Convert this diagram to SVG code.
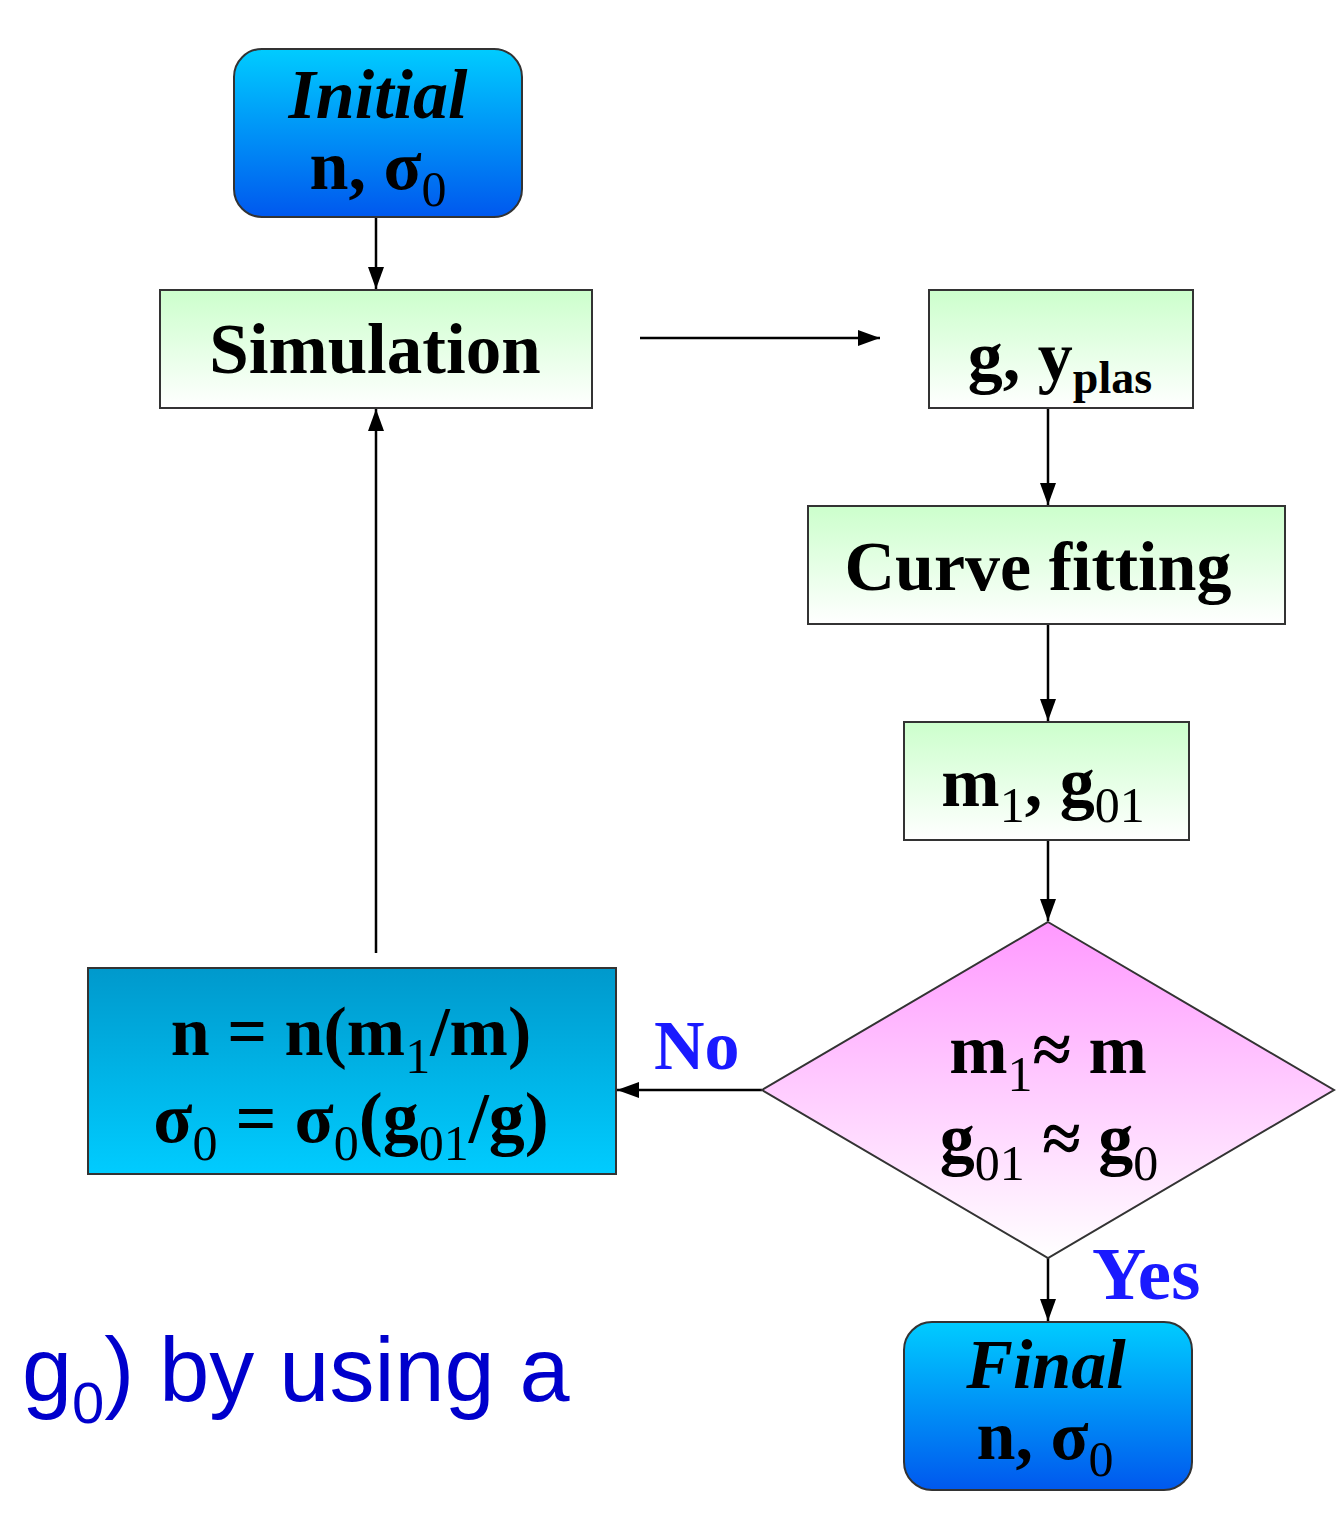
<svg xmlns="http://www.w3.org/2000/svg" width="1336" height="1521" viewBox="0 0 1336 1521">
<style>
.t{font-family:"Liberation Serif","Times New Roman",serif;font-weight:bold;font-size:70px;fill:#000;text-anchor:middle}
.it{font-style:italic}
.sub{font-weight:normal;font-size:50px}
.box{stroke:#333;stroke-width:2}
.con{stroke:#000;stroke-width:2.5;fill:none}
.lab{font-family:"Liberation Serif","Times New Roman",serif;font-weight:bold;fill:#1a1aff}
</style>
<defs>
<linearGradient id="gBlue" x1="0" y1="0" x2="0" y2="1"><stop offset="0" stop-color="#00ccff"/><stop offset="1" stop-color="#0058ee"/></linearGradient>
<linearGradient id="gCyan" x1="0" y1="0" x2="0" y2="1"><stop offset="0" stop-color="#0099cc"/><stop offset="1" stop-color="#00ccff"/></linearGradient>
<linearGradient id="gGreen" x1="0" y1="0" x2="0" y2="1"><stop offset="0" stop-color="#ccffcc"/><stop offset="1" stop-color="#ffffff"/></linearGradient>
<linearGradient id="gPink" x1="0" y1="0" x2="0" y2="1"><stop offset="0" stop-color="#ff99ff"/><stop offset="1" stop-color="#ffffff"/></linearGradient>
<marker id="arr" viewBox="0 0 22 16" refX="22" refY="8" markerWidth="22" markerHeight="16" markerUnits="userSpaceOnUse" orient="auto"><path d="M0,0 L22,8 L0,16 Z" fill="#000"/></marker>
</defs>

<g id="connectors">
<line class="con" x1="376" y1="217" x2="376" y2="289" marker-end="url(#arr)"/>
<line class="con" x1="640" y1="338" x2="880" y2="338" marker-end="url(#arr)"/>
<line class="con" x1="1048" y1="408" x2="1048" y2="505" marker-end="url(#arr)"/>
<line class="con" x1="1048" y1="624" x2="1048" y2="721" marker-end="url(#arr)"/>
<line class="con" x1="1048" y1="840" x2="1048" y2="921" marker-end="url(#arr)"/>
<line class="con" x1="1048" y1="1258" x2="1048" y2="1321" marker-end="url(#arr)"/>
<line class="con" x1="762" y1="1090" x2="617" y2="1090" marker-end="url(#arr)"/>
<line class="con" x1="376" y1="953" x2="376" y2="409" marker-end="url(#arr)"/>
</g>

<g id="initial">
<rect class="box" x="234" y="49" width="288" height="168" rx="28" fill="url(#gBlue)"/>
<text class="t it" x="378" y="118">Initial</text>
<text class="t" x="378" y="189">n, σ<tspan class="sub" dy="17">0</tspan></text>
</g>

<g id="simulation">
<rect class="box" x="160" y="290" width="432" height="118" fill="url(#gGreen)"/>
<text class="t" x="375" y="373" style="font-size:71px">Simulation</text>
</g>

<g id="gyplas">
<rect class="box" x="929" y="290" width="264" height="118" fill="url(#gGreen)"/>
<text class="t" x="1060" y="380">g, y<tspan class="sub" dy="13" style="font-weight:bold;font-size:46px">plas</tspan></text>
</g>

<g id="curvefitting">
<rect class="box" x="808" y="506" width="477" height="118" fill="url(#gGreen)"/>
<text class="t" x="1038" y="590">Curve fitting</text>
</g>

<g id="m1g01">
<rect class="box" x="904" y="722" width="285" height="118" fill="url(#gGreen)"/>
<text class="t" x="1043" y="806">m<tspan class="sub" dy="16">1</tspan><tspan dy="-16">, g</tspan><tspan class="sub" dy="16">01</tspan></text>
</g>

<g id="decision">
<polygon class="box" points="1048,922 1334,1090 1048,1258 762,1090" fill="url(#gPink)"/>
<text class="t" x="1048" y="1073">m<tspan class="sub" dy="18">1</tspan><tspan dy="-18">≈ m</tspan></text>
<text class="t" x="1049" y="1162">g<tspan class="sub" dy="18">01</tspan><tspan dy="-18"> ≈ g</tspan><tspan class="sub" dy="18">0</tspan></text>
</g>

<g id="update">
<rect class="box" x="88" y="968" width="528" height="206" fill="url(#gCyan)"/>
<text class="t" x="351" y="1055">n = n(m<tspan class="sub" dy="18">1</tspan><tspan dy="-18">/m)</tspan></text>
<text class="t" x="351" y="1142" style="font-size:72px">σ<tspan class="sub" dy="18">0</tspan><tspan dy="-18"> = σ</tspan><tspan class="sub" dy="18">0</tspan><tspan dy="-18">(g</tspan><tspan class="sub" dy="18">01</tspan><tspan dy="-18">/g)</tspan></text>
</g>

<g id="final">
<rect class="box" x="904" y="1322" width="288" height="168" rx="28" fill="url(#gBlue)"/>
<text class="t it" x="1046" y="1388">Final</text>
<text class="t" x="1045" y="1459">n, σ<tspan class="sub" dy="17">0</tspan></text>
</g>

<g id="labels">
<text class="lab" x="654" y="1069" font-size="70">No</text>
<text class="lab" x="1092" y="1299" font-size="75">Yes</text>
</g>

<text x="22" y="1401" font-family="'Liberation Sans',Arial,sans-serif" font-size="90" fill="#0000cc">g<tspan font-size="58" dy="22">0</tspan><tspan dy="-22">) by using a</tspan></text>
</svg>
